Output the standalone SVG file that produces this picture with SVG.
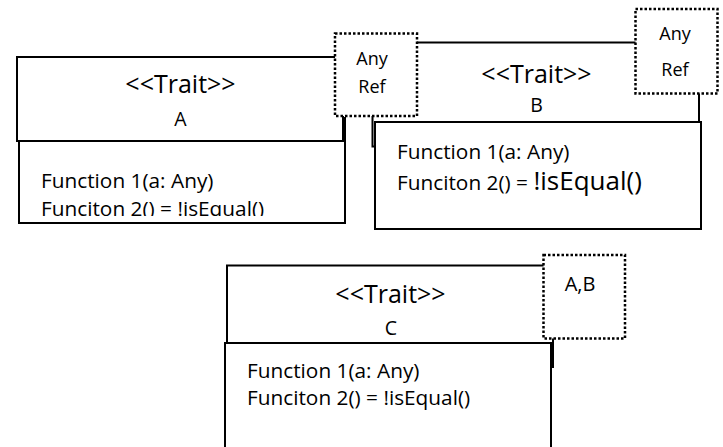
<svg xmlns="http://www.w3.org/2000/svg" width="723" height="447" viewBox="0 0 723 447">
<style>
.box{fill:#fff;stroke:#000;stroke-width:2}
.dot{fill:#fff;stroke:#000;stroke-width:2.5;stroke-dasharray:2.5 2}
text{font-family:"Open Sans","Noto Sans",sans-serif;fill:#000}
.st{font-size:25px;text-anchor:middle}
.nm{font-size:19.5px;text-anchor:middle}
.fn{font-size:20.8px}
.big{font-size:26px}
.ref{font-size:18px;text-anchor:middle}
.ab{font-size:20px;text-anchor:middle}
</style>
<defs>
<clipPath id="clipA"><rect x="19" y="141" width="326" height="75"/></clipPath>
</defs>
<rect width="723" height="447" fill="#fff"/>
<g id="connectors"></g>
<g id="traitA">
<rect class="box" x="19" y="118" width="326" height="105"/>
<rect class="box" x="17" y="57" width="326" height="84"/>
<text class="st" x="180.5" y="93">&lt;&lt;Trait&gt;&gt;</text>
<text class="nm" x="180.5" y="126">A</text>
<g clip-path="url(#clipA)">
<text class="fn" x="41" y="188">Function 1(a: Any)</text>
<text class="fn" x="41" y="216">Funciton 2() = !isEqual()</text>
</g>
</g>
<g id="traitB">
<rect class="box" x="372.5" y="42.5" width="326.5" height="104"/>
<rect class="box" x="375" y="122" width="326" height="107"/>
<text class="st" x="536.5" y="83">&lt;&lt;Trait&gt;&gt;</text>
<text class="nm" x="536.5" y="112">B</text>
<text class="fn" x="397" y="159">Function 1(a: Any)</text>
<text class="fn" x="397" y="190">Funciton 2() = <tspan class="big">!isEqual()</tspan></text>
</g>
<g id="refA">
<rect class="dot" x="335" y="33.5" width="82" height="82.5"/>
<text class="ref" x="372" y="64.5">Any</text>
<text class="ref" x="372" y="92.5">Ref</text>
</g>
<g id="refB">
<rect class="dot" x="635.5" y="9" width="82" height="84.5"/>
<text class="ref" x="675" y="40">Any</text>
<text class="ref" x="675" y="75.5">Ref</text>
</g>
<g id="traitC">
<rect class="box" x="227" y="265.5" width="326" height="101.5"/>
<rect class="box" x="225" y="343" width="326" height="130"/>
<text class="st" x="390.5" y="303">&lt;&lt;Trait&gt;&gt;</text>
<text class="nm" x="391" y="335">C</text>
<text class="fn" x="247" y="378">Function 1(a: Any)</text>
<text class="fn" x="247" y="405">Funciton 2() = !isEqual()</text>
</g>
<g id="refC">
<rect class="dot" x="543.5" y="255" width="81.5" height="83.5"/>
<text class="ab" x="580" y="291">A,B</text>
</g>
</svg>
